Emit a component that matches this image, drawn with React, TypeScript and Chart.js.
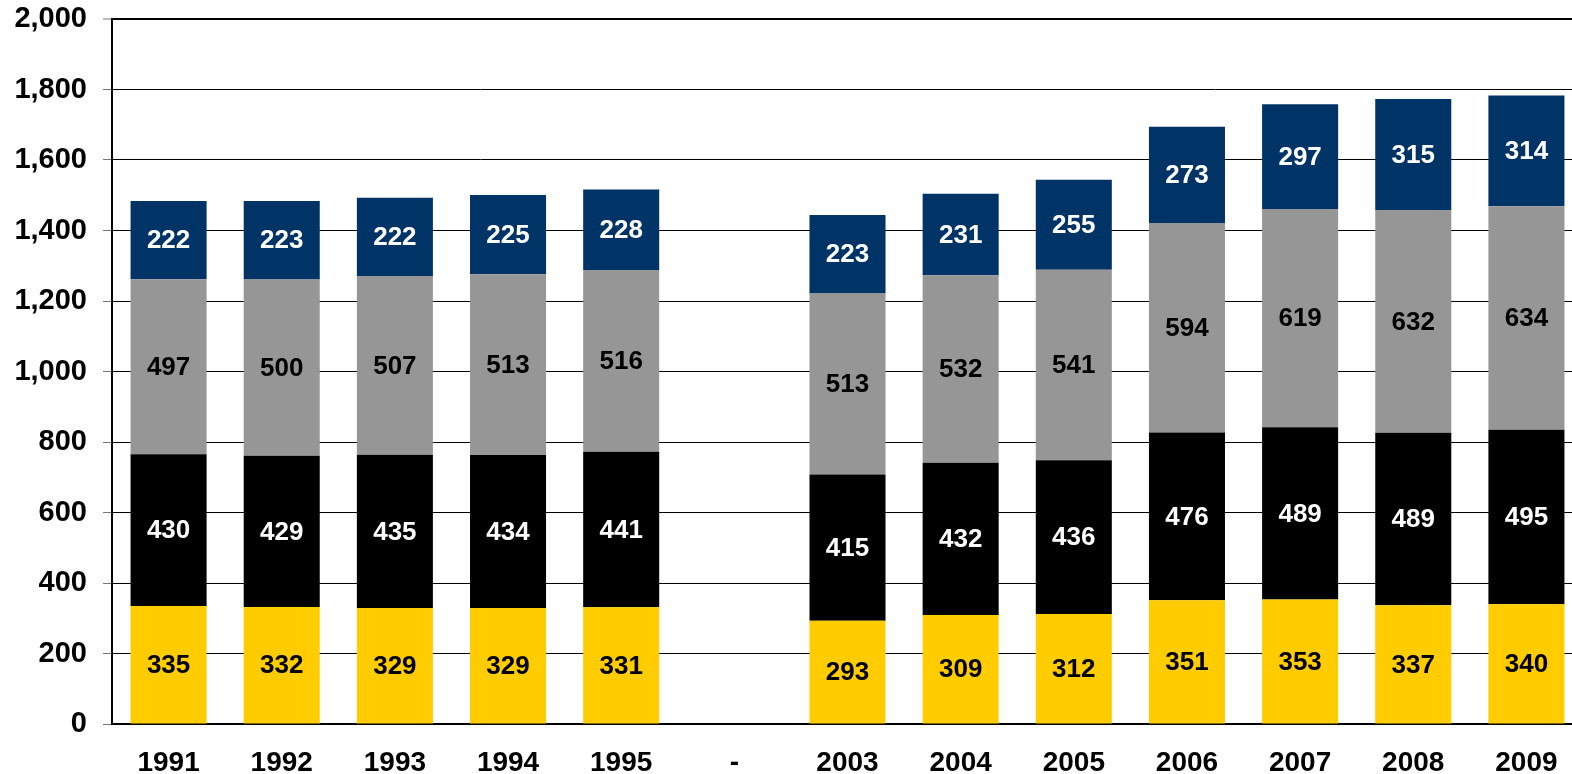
import React, { useEffect, useRef } from "react";
import { Chart, registerables } from "chart.js";

Chart.register(...registerables);

const categories = ["1991", "1992", "1993", "1994", "1995", "-", "2003", "2004", "2005", "2006", "2007", "2008", "2009"];
const yellowValues = [335, 332, 329, 329, 331, null, 293, 309, 312, 351, 353, 337, 340];
const blackValues = [430, 429, 435, 434, 441, null, 415, 432, 436, 476, 489, 489, 495];
const grayValues = [497, 500, 507, 513, 516, null, 513, 532, 541, 594, 619, 632, 634];
const navyValues = [222, 223, 222, 225, 228, null, 223, 231, 255, 273, 297, 315, 314];

const FONT = "Arial, 'Liberation Sans', sans-serif";

const labelPlugin = {
  id: "segmentLabels",
  afterDatasetsDraw(chart: any) {
    const ctx = chart.ctx;
    ctx.save();
    ctx.font = `bold 26px ${FONT}`;
    ctx.textAlign = "center";
    ctx.textBaseline = "middle";
    chart.data.datasets.forEach((ds: any, di: number) => {
      const meta = chart.getDatasetMeta(di);
      meta.data.forEach((el: any, i: number) => {
        const v = ds.data[i];
        if (v === null || v === undefined) return;
        const p = el.getProps(["x", "y", "base"], true);
        ctx.fillStyle = ds.labelColor;
        ctx.fillText(String(v), p.x, (p.y + p.base) / 2 + 1);
      });
    });
    ctx.restore();
  },
};

export default function App() {
  const ref = useRef<HTMLCanvasElement>(null);
  useEffect(() => {
    if (!ref.current) return;
    const chart = new Chart(ref.current, {
      type: "bar",
      data: {
        labels: categories,
        datasets: [
          { label: "A", data: yellowValues, backgroundColor: "#FFCC00", labelColor: "#000" } as any,
          { label: "B", data: blackValues, backgroundColor: "#000000", labelColor: "#fff" } as any,
          { label: "C", data: grayValues, backgroundColor: "#969696", labelColor: "#000" } as any,
          { label: "D", data: navyValues, backgroundColor: "#003366", labelColor: "#fff" } as any,
        ],
      },
      options: {
        responsive: false,
        animation: false,
        layout: { padding: { top: 19, left: 0, right: 0, bottom: 0 } },
        datasets: { bar: { barPercentage: 0.672, categoryPercentage: 1 } },
        plugins: { legend: { display: false }, tooltip: { enabled: false } },
        scales: {
          x: {
            stacked: true,
            grid: { display: false, drawTicks: false },
            border: { display: true, color: "#000", width: 2 },
            ticks: { color: "#000", font: { family: FONT, size: 28, weight: "bold" }, padding: 22, maxRotation: 0, autoSkip: false },
            afterFit: (s: any) => { s.height = 50; s.paddingLeft = 0; s.paddingRight = 0; },
          },
          y: {
            stacked: true,
            min: 0,
            max: 2000,
            grid: {
              color: "#000",
              lineWidth: (c: any) => (c.tick && c.tick.value === 2000 ? 2 : 1),
              tickColor: "#777",
              tickLength: 9,
              tickWidth: 1,
            },
            border: { display: true, color: "#000", width: 2 },
            ticks: {
              stepSize: 200,
              color: "#000",
              padding: 16,
              font: { family: FONT, size: 29, weight: "bold" },
              callback: (v: any) => Number(v).toLocaleString("en-US"),
            },
            afterFit: (s: any) => { s.width = 112; s.paddingTop = 0; s.paddingBottom = 0; },
          },
        },
      },
      plugins: [labelPlugin],
    });
    return () => chart.destroy();
  }, []);
  return (
    <div style={{ position: "fixed", left: 0, top: 0, width: 1572, height: 774, overflow: "hidden", background: "#fff" }}>
      <canvas ref={ref} width={1583} height={774} style={{ display: "block" }} />
    </div>
  );
}
